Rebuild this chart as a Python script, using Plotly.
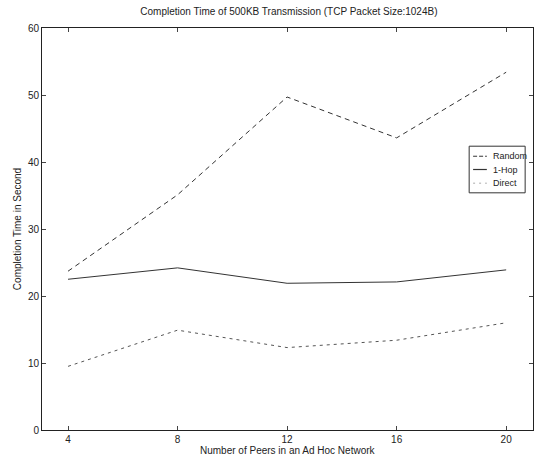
import plotly.graph_objects as go

peers = [4, 8, 12, 16, 20]
random_t = [23.7, 35.1, 49.7, 43.6, 53.4]
one_hop_t = [22.5, 24.2, 21.9, 22.1, 23.9]
direct_t = [9.5, 14.9, 12.3, 13.4, 16.0]
series_names = ["Random", "1-Hop", "Direct"]
x_ticks = [4, 8, 12, 16, 20]
y_ticks = [0, 10, 20, 30, 40, 50, 60]

font = dict(family="Liberation Sans, Arial, sans-serif", size=10, color="#222")
styles = [
    dict(color="#333", width=1, dash="5px,4px"),
    dict(color="#333", width=1),
    dict(color="#555", width=1, dash="3px,4px"),
]
legend_styles = [
    dict(color="#333", width=1, dash="4px,2px"),
    dict(color="#333", width=1.2),
    dict(color="#aaa", width=1, dash="2px,4px"),
]

fig = go.Figure()
for name, ys, st in zip(series_names, [random_t, one_hop_t, direct_t], styles):
    fig.add_trace(go.Scatter(x=peers, y=ys, mode="lines", name=name, line=st,
                             showlegend=False))

# compact legend box (paper coordinates), matching the reference's small boxed legend
shapes = [dict(type="rect", xref="paper", yref="paper", x0=0.870, x1=0.984,
               y0=0.590, y1=0.706, line=dict(color="#333", width=1), fillcolor="white",
               layer="above")]
annotations = []
entry_y = [0.681, 0.648, 0.614]
for name, ly, st in zip(series_names, entry_y, legend_styles):
    shapes.append(dict(type="line", xref="paper", yref="paper", x0=0.878, x1=0.906,
                       y0=ly, y1=ly, line=st, layer="above"))
    annotations.append(dict(text=name, xref="paper", yref="paper", x=0.914, y=ly,
                            xanchor="left", yanchor="middle", showarrow=False,
                            font=dict(size=9)))
annotations.append(dict(text="Number of Peers in an Ad Hoc Network", xref="paper",
                        yref="paper", x=0.5, y=-0.052, xanchor="center",
                        yanchor="middle", showarrow=False, font=dict(size=10)))

fig.update_layout(
    width=540, height=458,
    margin=dict(l=42, r=7, t=28, b=28),
    paper_bgcolor="white", plot_bgcolor="white",
    font=font,
    title=dict(text="Completion Time of 500KB Transmission (TCP Packet Size:1024B)",
               x=0.535, xanchor="center", y=0.975, yanchor="middle",
               font=dict(size=10, color="#222", family=font["family"])),
    showlegend=False,
    shapes=shapes,
    annotations=annotations,
)
fig.update_xaxes(range=[3.05, 20.98], tickvals=x_ticks, ticks="inside", ticklen=4,
                 showline=True, linecolor="#222", linewidth=1, mirror="ticks",
                 showgrid=False, zeroline=False, tickfont=dict(size=10))
fig.update_yaxes(range=[0, 60], tickvals=y_ticks, ticks="inside", ticklen=4,
                 showline=True, linecolor="#222", linewidth=1, mirror="ticks",
                 showgrid=False, zeroline=False, tickfont=dict(size=10),
                 title=dict(text="Completion Time in Second", standoff=4,
                            font=dict(size=10)))

fig.write_html("out.html", post_script="document.body.style.margin='0';",
               config={"displayModeBar": False})
